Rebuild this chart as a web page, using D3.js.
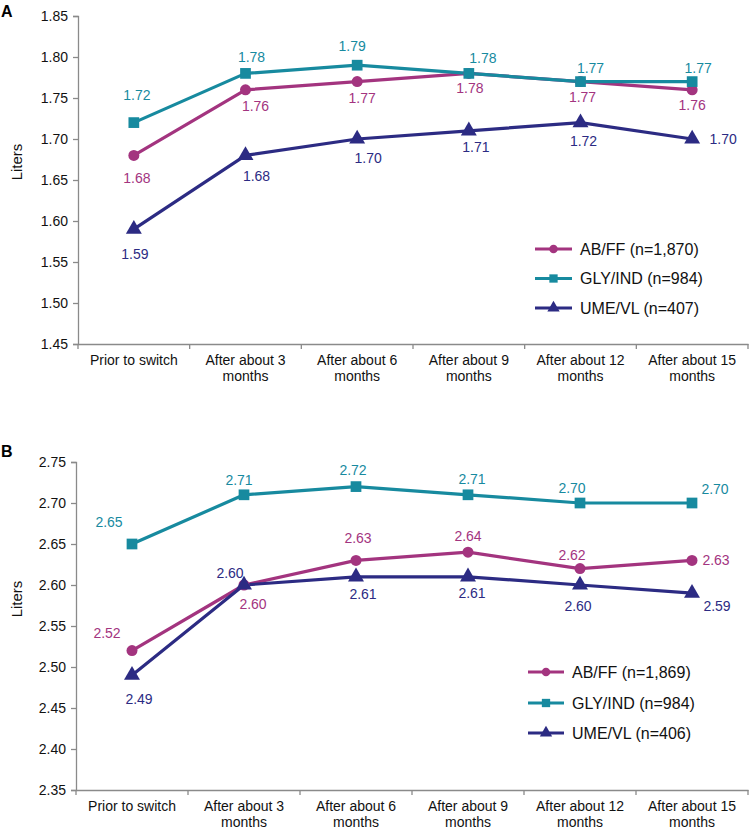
<!DOCTYPE html>
<html>
<head>
<meta charset="utf-8">
<script src="https://cdn.jsdelivr.net/npm/d3@7"></script>
<style>
  html, body { margin: 0; padding: 0; background: #fff; }
  svg { display: block; font-family: "Liberation Sans", Arial, sans-serif; }
</style>
</head>
<body>
<svg id="chart" width="750" height="832"></svg>
<script>
// ---------------- DATA ----------------
const categories = ["Prior to switch", "After about 3 months", "After about 6 months",
                    "After about 9 months", "After about 12 months", "After about 15 months"];
const seriesNames = ["AB/FF", "GLY/IND", "UME/VL"];

// Panel A values
const panelA_ABFF  = [1.68, 1.76, 1.77, 1.78, 1.77, 1.76];
const panelA_GLYIND = [1.72, 1.78, 1.79, 1.78, 1.77, 1.77];
const panelA_UMEVL = [1.59, 1.68, 1.70, 1.71, 1.72, 1.70];
const panelA_n = ["1,870", "984", "407"];
const panelA_ticks = [1.45, 1.50, 1.55, 1.60, 1.65, 1.70, 1.75, 1.80, 1.85];

// Panel B values
const panelB_ABFF  = [2.52, 2.60, 2.63, 2.64, 2.62, 2.63];
const panelB_GLYIND = [2.65, 2.71, 2.72, 2.71, 2.70, 2.70];
const panelB_UMEVL = [2.49, 2.60, 2.61, 2.61, 2.60, 2.59];
const panelB_n = ["1,869", "984", "406"];
const panelB_ticks = [2.35, 2.40, 2.45, 2.50, 2.55, 2.60, 2.65, 2.70, 2.75];

// ---------------- STYLE / LAYOUT ----------------
const colors = ["#A3347F", "#178A9F", "#2C2B83"];
const shapes = [d3.symbolCircle, d3.symbolSquare, d3.symbolTriangle];
const symSize = [95, 115, 110];
const axisColor = "#8a8a8a";

// label offsets [dx, dy] (text centre relative to point) per series, per category
const offsA = [
  [[3, 23], [10, 16], [5, 16], [1, 15], [2, 15], [0, 15]],
  [[3, -28], [6, -16], [-5, -19], [14, -15], [10, -14], [6, -14]],
  [[1, 25], [11, 21], [11, 19], [7, 16], [3, 18], [31, 0]]
];
const offsB = [
  [[-25, -18], [9, 19], [2, -22], [0, -16], [-8, -14], [24, 0]],
  [[-23, -22], [-5, -15], [-3, -17], [4, -16], [-8, -15], [23, -14]],
  [[7, 24], [-14, -12], [7, 17], [4, 16], [-2, 21], [25, 13]]
];

const panels = [
  { letter: "A", letterY: 17, top: 16, bottom: 344, left: 78, right: 748,
    domain: [1.45, 1.85], ticks: panelA_ticks,
    series: [panelA_ABFF, panelA_GLYIND, panelA_UMEVL], n: panelA_n, offs: offsA,
    litersY: 162, legend: { x1: 535, x2: 572, tx: 580, ys: [249, 278.5, 308] } },
  { letter: "B", letterY: 457, top: 462, bottom: 790, left: 76, right: 748,
    domain: [2.35, 2.75], ticks: panelB_ticks,
    series: [panelB_ABFF, panelB_GLYIND, panelB_UMEVL], n: panelB_n, offs: offsB,
    litersY: 599, legend: { x1: 528, x2: 564, tx: 572, ys: [672, 703, 733] } }
];

const svg = d3.select("#chart");

panels.forEach(p => {
  const g = svg.append("g");
  const x = d3.scaleBand().domain(categories).range([p.left, p.right]).paddingInner(0).paddingOuter(0);
  const y = d3.scaleLinear().domain(p.domain).range([p.bottom, p.top]);
  const cx = c => x(c) + x.bandwidth() / 2;

  // panel letter
  g.append("text").attr("x", 1).attr("y", p.letterY)
    .attr("font-size", 16).attr("font-weight", "bold").attr("fill", "#000").text(p.letter);

  // y axis
  const yAxis = g.append("g").attr("transform", `translate(${p.left},0)`)
    .call(d3.axisLeft(y).tickValues(p.ticks).tickFormat(d3.format(".2f")).tickSizeOuter(0).tickSize(5).tickPadding(5));
  yAxis.select(".domain").attr("stroke", axisColor).attr("stroke-width", 1.3);
  yAxis.selectAll(".tick line").attr("stroke", axisColor).attr("stroke-width", 1.3);
  yAxis.selectAll(".tick text").attr("font-size", 14).attr("fill", "#111")
    .attr("font-family", "Liberation Sans, Arial, sans-serif");

  // x axis
  const xAxis = g.append("g").attr("transform", `translate(0,${p.bottom})`)
    .call(d3.axisBottom(x).tickSize(0).tickSizeOuter(0).tickPadding(0));
  xAxis.select(".domain").attr("stroke", axisColor).attr("stroke-width", 1.3);
  xAxis.selectAll(".tick text").remove();
  xAxis.selectAll(".tick").each(function(d) {
    const t = d3.select(this).append("text").attr("fill", "#111").attr("font-size", 14)
      .attr("text-anchor", "middle").attr("font-family", "Liberation Sans, Arial, sans-serif");
    const idx = d.indexOf(" months");
    const lines = idx >= 0 ? [d.slice(0, idx), "months"] : [d];
    lines.forEach((ln, i) => t.append("tspan").attr("x", 0).attr("y", 21 + i * 16).text(ln));
  });
  // boundary tick marks between categories
  const bounds = categories.map(c => x(c)).concat([p.right]);
  g.selectAll(".bt").data(bounds).enter().append("line")
    .attr("x1", d => d).attr("x2", d => d)
    .attr("y1", p.bottom).attr("y2", p.bottom + 5)
    .attr("stroke", axisColor).attr("stroke-width", 1.3);

  // Liters label
  g.append("text").attr("transform", `translate(22,${p.litersY}) rotate(-90)`)
    .attr("text-anchor", "middle").attr("font-size", 15).attr("fill", "#111").text("Liters");

  // series lines
  const line = d3.line().x((d, i) => cx(categories[i])).y(d => y(d));
  p.series.forEach((vals, s) => {
    g.append("path").datum(vals).attr("d", line).attr("fill", "none")
      .attr("stroke", colors[s]).attr("stroke-width", 3.2).attr("stroke-linejoin", "round");
  });
  // markers (draw above all lines)
  p.series.forEach((vals, s) => {
    g.selectAll(null).data(vals).enter().append("path")
      .attr("d", d3.symbol().type(shapes[s]).size(symSize[s]))
      .attr("transform", (d, i) => `translate(${cx(categories[i])},${y(d)})`)
      .attr("fill", colors[s]);
  });
  // data labels
  p.series.forEach((vals, s) => {
    g.selectAll(null).data(vals).enter().append("text")
      .attr("x", (d, i) => cx(categories[i]) + p.offs[s][i][0])
      .attr("y", (d, i) => y(d) + p.offs[s][i][1])
      .attr("dy", "0.36em").attr("text-anchor", "middle")
      .attr("font-size", 14).attr("fill", colors[s])
      .text(d => d.toFixed(2));
  });

  // legend
  const L = p.legend;
  seriesNames.forEach((name, s) => {
    const ly = L.ys[s];
    g.append("line").attr("x1", L.x1).attr("x2", L.x2).attr("y1", ly).attr("y2", ly)
      .attr("stroke", colors[s]).attr("stroke-width", 3.2);
    g.append("path").attr("d", d3.symbol().type(shapes[s]).size(symSize[s] * 0.6))
      .attr("transform", `translate(${(L.x1 + L.x2) / 2},${ly})`).attr("fill", colors[s]);
    g.append("text").attr("x", L.tx).attr("y", ly).attr("dy", "0.36em")
      .attr("font-size", 16).attr("fill", "#111").text(`${name} (n=${p.n[s]})`);
  });
});
</script>
</body>
</html>
